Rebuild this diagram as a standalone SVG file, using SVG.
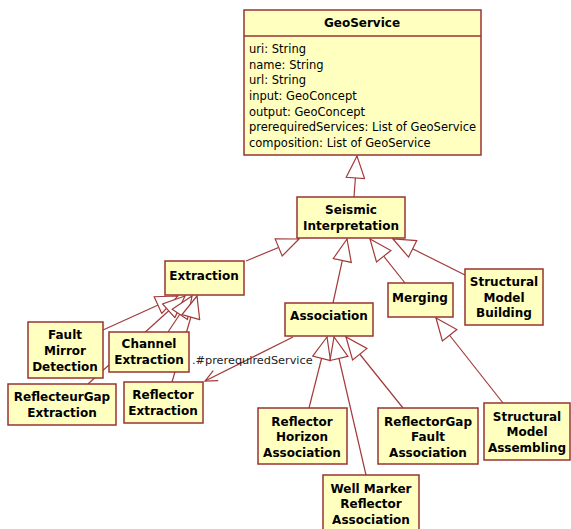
<svg xmlns="http://www.w3.org/2000/svg" width="571" height="529" viewBox="0 0 571 529">
  <style>
    .box { fill: #ffffc0; stroke: #993333; stroke-width: 1.5; }
    .edge { fill: none; stroke: #a33a3a; stroke-width: 1.2; }
    .lbl { font-family: "DejaVu Sans", Verdana, sans-serif; font-size: 12px; font-weight: bold; fill: #000; text-anchor: middle; }
    .attr { font-family: "DejaVu Sans", Verdana, sans-serif; font-size: 11.5px; fill: #000; }
    .dep { font-family: "DejaVu Sans", Verdana, sans-serif; font-size: 11.3px; fill: #222; }
  </style>
  <defs>
    <!-- hollow triangle: generalization -->
    <marker id="gen" markerWidth="24" markerHeight="20" refX="23" refY="10" orient="auto" markerUnits="userSpaceOnUse" viewBox="0 0 24 20">
      <path d="M23,10 L1,0.8 L1,19.2 Z" fill="#ffffff" stroke="#a33a3a" stroke-width="1.2"/>
    </marker>
    <!-- open arrow: dependency -->
    <marker id="open" markerWidth="14" markerHeight="14" refX="13" refY="7" orient="auto" markerUnits="userSpaceOnUse" viewBox="0 0 14 14">
      <path d="M1,1.5 L13,7 L1,12.5" fill="none" stroke="#a33a3a" stroke-width="1.2"/>
    </marker>
  </defs>
  <rect width="571" height="529" fill="#ffffff"/>

  <g id="connectors">
    <line class="edge" x1="354" y1="197" x2="357" y2="156" marker-end="url(#gen)"/>
    <line class="edge" x1="246" y1="261" x2="299" y2="239" marker-end="url(#gen)"/>
    <line class="edge" x1="333" y1="303" x2="347" y2="239" marker-end="url(#gen)"/>
    <line class="edge" x1="405" y1="283" x2="370" y2="239" marker-end="url(#gen)"/>
    <line class="edge" x1="465" y1="275" x2="393" y2="239" marker-end="url(#gen)"/>
    <line class="edge" x1="503" y1="403" x2="436" y2="318" marker-end="url(#gen)"/>
    <line class="edge" x1="309" y1="408" x2="327" y2="337" marker-end="url(#gen)"/>
    <line class="edge" x1="366" y1="475" x2="334" y2="337" marker-end="url(#gen)"/>
    <line class="edge" x1="403" y1="408" x2="346" y2="337" marker-end="url(#gen)"/>
    <line class="edge" x1="103" y1="330" x2="178" y2="296" marker-end="url(#gen)"/>
    <line class="edge" x1="88" y1="384" x2="185" y2="296" marker-end="url(#gen)"/>
    <line class="edge" x1="168" y1="332" x2="192" y2="296" marker-end="url(#gen)"/>
    <line class="edge" x1="172" y1="382" x2="197" y2="296" marker-end="url(#gen)"/>
    <line class="edge" x1="293" y1="337" x2="205" y2="381" marker-end="url(#open)"/>
    <text class="dep" x="192" y="364">.#prerequiredService</text>
  </g>

  <g id="GeoService">
    <rect class="box" x="244" y="10" width="237" height="145"/>
    <line x1="244" y1="36" x2="481" y2="36" stroke="#993333" stroke-width="1.5"/>
    <text class="lbl" x="362" y="27">GeoService</text>
    <text class="attr" x="249" y="53">uri: String</text>
    <text class="attr" x="249" y="69">name: String</text>
    <text class="attr" x="249" y="84">url: String</text>
    <text class="attr" x="249" y="100">input: GeoConcept</text>
    <text class="attr" x="249" y="116">output: GeoConcept</text>
    <text class="attr" x="249" y="131">prerequiredServices: List of GeoService</text>
    <text class="attr" x="249" y="147">composition: List of GeoService</text>
  </g>

  <g id="SeismicInterpretation">
    <rect class="box" x="297" y="197" width="108" height="41"/>
    <text class="lbl" x="351" y="214">Seismic</text>
    <text class="lbl" x="351" y="230">Interpretation</text>
  </g>

  <g id="Extraction">
    <rect class="box" x="165" y="261" width="79" height="34"/>
    <text class="lbl" x="204" y="280">Extraction</text>
  </g>

  <g id="Association">
    <rect class="box" x="285" y="303" width="88" height="33"/>
    <text class="lbl" x="329" y="320">Association</text>
  </g>

  <g id="Merging">
    <rect class="box" x="388" y="283" width="65" height="34"/>
    <text class="lbl" x="420" y="302">Merging</text>
  </g>

  <g id="StructuralModelBuilding">
    <rect class="box" x="465" y="269" width="78" height="56"/>
    <text class="lbl" x="504" y="286">Structural</text>
    <text class="lbl" x="504" y="302">Model</text>
    <text class="lbl" x="504" y="317">Building</text>
  </g>

  <g id="StructuralModelAssembling">
    <rect class="box" x="484" y="403" width="86" height="57"/>
    <text class="lbl" x="527" y="421">Structural</text>
    <text class="lbl" x="527" y="436">Model</text>
    <text class="lbl" x="527" y="452">Assembling</text>
  </g>

  <g id="ReflectorHorizonAssociation">
    <rect class="box" x="258" y="408" width="89" height="56"/>
    <text class="lbl" x="302" y="426">Reflector</text>
    <text class="lbl" x="302" y="441">Horizon</text>
    <text class="lbl" x="302" y="457">Association</text>
  </g>

  <g id="ReflectorGapFaultAssociation">
    <rect class="box" x="378" y="408" width="100" height="56"/>
    <text class="lbl" x="428" y="426">ReflectorGap</text>
    <text class="lbl" x="428" y="441">Fault</text>
    <text class="lbl" x="428" y="457">Association</text>
  </g>

  <g id="WellMarkerReflectorAssociation">
    <rect class="box" x="323" y="475" width="96" height="60"/>
    <text class="lbl" x="371" y="493">Well Marker</text>
    <text class="lbl" x="371" y="508">Reflector</text>
    <text class="lbl" x="371" y="524">Association</text>
  </g>

  <g id="FaultMirrorDetection">
    <rect class="box" x="28" y="322" width="75" height="56"/>
    <text class="lbl" x="65" y="339">Fault</text>
    <text class="lbl" x="65" y="355">Mirror</text>
    <text class="lbl" x="65" y="371">Detection</text>
  </g>

  <g id="ChannelExtraction">
    <rect class="box" x="109" y="332" width="80" height="40"/>
    <text class="lbl" x="149" y="348">Channel</text>
    <text class="lbl" x="149" y="364">Extraction</text>
  </g>

  <g id="ReflecteurGapExtraction">
    <rect class="box" x="8" y="384" width="108" height="41"/>
    <text class="lbl" x="62" y="401">ReflecteurGap</text>
    <text class="lbl" x="62" y="417">Extraction</text>
  </g>

  <g id="ReflectorExtraction">
    <rect class="box" x="124" y="382" width="79" height="41"/>
    <text class="lbl" x="163" y="399">Reflector</text>
    <text class="lbl" x="163" y="415">Extraction</text>
  </g>
</svg>
